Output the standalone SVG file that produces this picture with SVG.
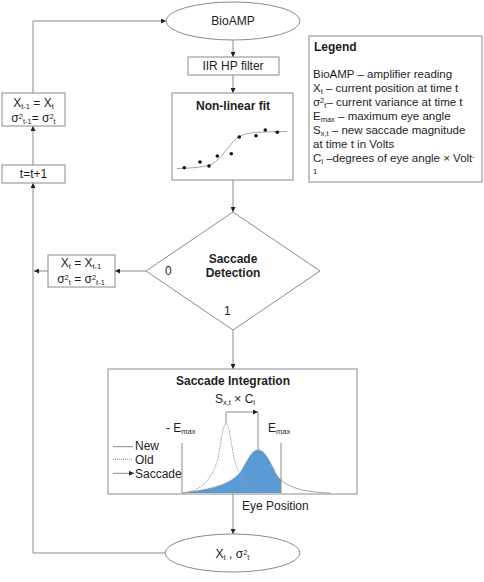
<svg xmlns="http://www.w3.org/2000/svg" width="484" height="582" viewBox="0 0 484 582">
<defs>
<marker id="ah" markerUnits="userSpaceOnUse" markerWidth="5" markerHeight="5" refX="5" refY="2.5" orient="auto">
<path d="M0,0 L5,2.5 L0,5 Z" fill="#222"/>
</marker>
<clipPath id="clipE"><rect x="182" y="400" width="99" height="94"/></clipPath>
<style>
text{font-family:"Liberation Sans",Arial,sans-serif;font-size:12px;fill:#1e1e1e}
.b{font-weight:bold}
.m{text-anchor:middle}
.lg{font-size:11.5px}
.s{font-size:7.5px}
.shape{fill:#fff;stroke:#8a8a8a;stroke-width:1}
.ln{fill:none;stroke:#8a8a8a;stroke-width:1}
.ar{fill:none;stroke:#8a8a8a;stroke-width:1;marker-end:url(#ah)}
</style>
</defs>
<rect width="484" height="582" fill="#fff"/>

<g id="connectors">
<path class="ar" d="M233,40 V57"/>
<path class="ar" d="M233,75 V93"/>
<path class="ar" d="M233,180 V212"/>
<path class="ar" d="M233,330 V369"/>
<path class="ar" d="M146,271 H115"/>
<path class="ar" d="M48,271 H34"/>
<path class="ar" d="M233,494 V534"/>
<path class="ar" d="M165,553 H33 V183"/>
<path class="ar" d="M33,165 V126"/>
<path class="ar" d="M33,93 V21 H166"/>
</g>

<g id="bioamp">
<ellipse class="shape" cx="233" cy="21" rx="67" ry="19"/>
<text class="m" x="233" y="25">BioAMP</text>
</g>

<g id="iir">
<rect class="shape" x="188" y="57" width="91" height="18"/>
<text class="m" x="233" y="70">IIR HP filter</text>
</g>

<g id="nonlinear">
<rect class="shape" x="172" y="93" width="121" height="87"/>
<text class="m b" x="233" y="110">Non-linear fit</text>
<path d="M177,168.5 C195,168 205,167 212,164 C222,158 228,146 236,139 C244,132 255,132 287,131.5" fill="none" stroke="#93a7c2" stroke-width="1"/>
<g fill="#111">
<circle cx="184.3" cy="167.7" r="1.8"/>
<circle cx="200" cy="162" r="1.8"/>
<circle cx="209" cy="166" r="1.8"/>
<circle cx="217.3" cy="156" r="1.8"/>
<circle cx="231.3" cy="153.7" r="1.8"/>
<circle cx="239.3" cy="137" r="1.8"/>
<circle cx="256" cy="135.7" r="1.8"/>
<circle cx="265.3" cy="130" r="1.8"/>
<circle cx="277.3" cy="132.3" r="1.8"/>
</g>
</g>

<g id="legend">
<rect class="shape" x="309" y="36" width="173" height="146"/>
<text class="b" x="314" y="51">Legend</text>
<text class="lg" x="313" y="78">BioAMP – amplifier reading</text>
<text class="lg" x="313" y="92">X<tspan class="s" dy="2">t</tspan><tspan dy="-2"> – current position at time t</tspan></text>
<text class="lg" x="313" y="106">σ<tspan class="s" dy="-3">2</tspan><tspan class="s" dy="5">t</tspan><tspan dy="-2">– current variance at time t</tspan></text>
<text class="lg" x="313" y="120">E<tspan class="s" dy="2">max</tspan><tspan dy="-2"> – maximum eye angle</tspan></text>
<text class="lg" x="313" y="134">S<tspan class="s" dy="2">x,t</tspan><tspan dy="-2"> – new saccade magnitude</tspan></text>
<text class="lg" x="313" y="148">at time t in Volts</text>
<text class="lg" x="313" y="162">C<tspan class="s" dy="2">l</tspan><tspan dy="-2"> –degrees of eye angle × Volt</tspan><tspan class="s" dy="-3">-</tspan></text>
<text class="s" x="313" y="174">1</text>
</g>

<g id="update-prev">
<rect class="shape" x="2" y="93" width="63" height="33"/>
<text class="m" x="33.5" y="107">X<tspan class="s" dy="2">t-1</tspan><tspan dy="-2"> = X</tspan><tspan class="s" dy="2">t</tspan></text>
<text class="m" x="33.5" y="122">σ<tspan class="s" dy="-3">2</tspan><tspan class="s" dy="5">t-1</tspan><tspan dy="-2">= σ</tspan><tspan class="s" dy="-3">2</tspan><tspan class="s" dy="5">t</tspan></text>
</g>

<g id="increment">
<rect class="shape" x="2" y="165" width="63" height="18"/>
<text class="m" x="33.5" y="178">t=t+1</text>
</g>

<g id="detection">
<path class="shape" d="M233,212 L320,271 L233,330 L146,271 Z"/>
<text class="m b" x="233" y="263">Saccade</text>
<text class="m b" x="233" y="277">Detection</text>
<text x="165" y="275">0</text>
<text x="224" y="315">1</text>
</g>

<g id="hold">
<rect class="shape" x="48" y="255" width="67" height="32"/>
<text class="m" x="81" y="267">X<tspan class="s" dy="2">t</tspan><tspan dy="-2"> = X</tspan><tspan class="s" dy="2">t-1</tspan></text>
<text class="m" x="81" y="283">σ<tspan class="s" dy="-3">2</tspan><tspan class="s" dy="5">t</tspan><tspan dy="-2"> = σ</tspan><tspan class="s" dy="-3">2</tspan><tspan class="s" dy="5">t-1</tspan></text>
</g>

<g id="integration">
<rect class="shape" x="108" y="369" width="249" height="125"/>
<text class="m b" x="233" y="385">Saccade Integration</text>
<text class="m" x="235" y="403">S<tspan class="s" dy="2">x,t</tspan><tspan dy="-2"> × C</tspan><tspan class="s" dy="2">l</tspan></text>
<text x="166" y="432">- E<tspan class="s" dy="2">max</tspan></text>
<text x="268" y="432">E<tspan class="s" dy="2">max</tspan></text>
<path d="M182,493 C205,490 228,487 240,473 C247,463 251,450 258,450 C265,450 270,462 276,474 C283,486 300,492 330,493 Z" fill="#5b9bd5" clip-path="url(#clipE)"/>
<path d="M182,493 C205,490 228,487 240,473 C247,463 251,450 258,450 C265,450 270,462 276,474 C283,486 300,492 330,493" fill="none" stroke="#7d8fa3" stroke-width="0.8"/>
<path d="M183,493 C200,491 212,481 218,458 C221,442 223,424 226,424 C229,424 231,442 234,458 C240,481 250,491 262,493" fill="none" stroke="#9a9a9a" stroke-width="0.8" stroke-dasharray="2 0.8"/>
<path class="ln" d="M182,443 V493 M281,443 V493"/>
<path class="ar" d="M226,424 V412 H258"/>
<path class="ln" d="M258,412 V450"/>
<path class="ln" d="M113,446.7 H133"/>
<path class="ln" d="M113,459.3 H133" stroke-dasharray="1 1"/>
<path class="ar" d="M113,473.3 H134"/>
<text x="135" y="450">New</text>
<text x="135" y="463.5">Old</text>
<text x="135" y="477.5">Saccade</text>
</g>

<text x="242" y="510">Eye Position</text>

<g id="output">
<ellipse class="shape" cx="232.5" cy="553" rx="67.5" ry="19"/>
<text class="m" x="232.5" y="558">X<tspan class="s" dy="2">t</tspan><tspan dy="-2"> , σ</tspan><tspan class="s" dy="-3">2</tspan><tspan class="s" dy="5">t</tspan></text>
</g>
</svg>
